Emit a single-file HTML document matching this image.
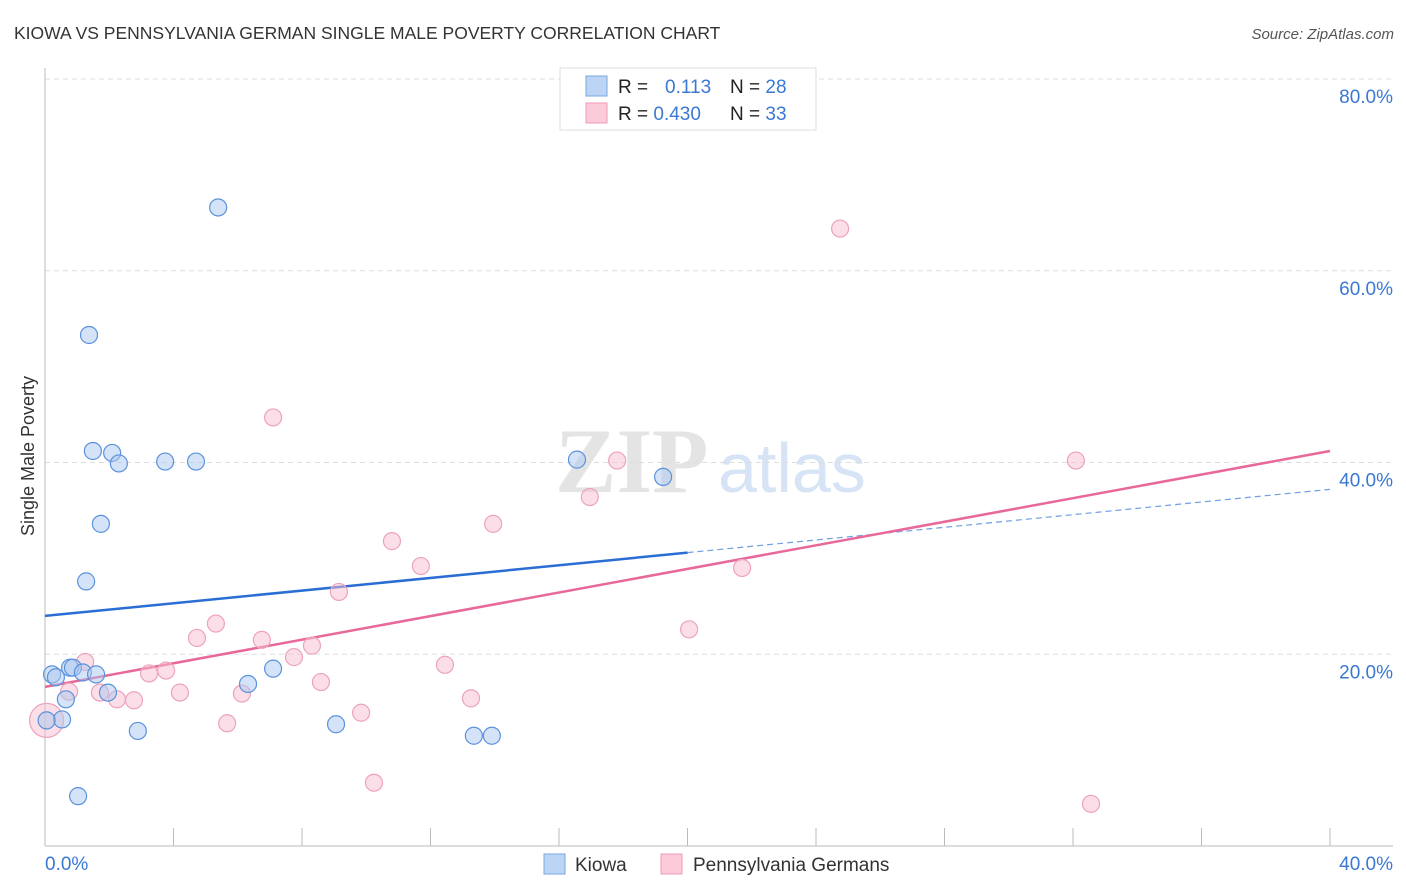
<!DOCTYPE html>
<html><head><meta charset="utf-8"><style>
body{margin:0;background:#fff;font-family:"Liberation Sans",sans-serif;}
#wrap{position:relative;width:1406px;height:892px;overflow:hidden;}
</style></head><body>
<div id="wrap">
<svg id="svg" width="1406" height="892" xmlns="http://www.w3.org/2000/svg">
<text x="14" y="39" font-size="17.5" fill="#333">KIOWA VS PENNSYLVANIA GERMAN SINGLE MALE POVERTY CORRELATION CHART</text>
<text x="1394" y="39" font-size="15" fill="#555" font-style="italic" text-anchor="end">Source: ZipAtlas.com</text>
<text x="34" y="456" font-size="18" fill="#333" text-anchor="middle" transform="rotate(-90 34 456)">Single Male Poverty</text>
<text x="555" y="492" font-size="92" fill="#e4e4e4" font-family="Liberation Serif,serif" font-weight="bold">ZIP</text>
<text x="718" y="492" font-size="70" fill="#d6e4f5">atlas</text>
<g id="grid"></g><g id="axes"></g><g id="lines"></g><g id="pts"></g>
<g>
<rect x="560" y="68" width="256" height="62" fill="#fff" stroke="#ddd"/>
<rect x="586" y="76" width="21" height="20" fill="#bcd5f5" stroke="#7aa7e0"/>
<rect x="586" y="103" width="21" height="20" fill="#fbcbd9" stroke="#f09ab5"/>
<text x="618" y="93" font-size="19" fill="#222">R = <tspan fill="#3a78d4" x="665">0.113</tspan></text>
<text x="730" y="93" font-size="19" fill="#222">N = <tspan fill="#3a78d4">28</tspan></text>
<text x="618" y="120" font-size="19" fill="#222">R = <tspan fill="#3a78d4">0.430</tspan></text>
<text x="730" y="120" font-size="19" fill="#222">N = <tspan fill="#3a78d4">33</tspan></text>
</g>
<g>
<rect x="544" y="854" width="21" height="20" fill="#bcd5f5" stroke="#7aa7e0"/>
<text x="575" y="871" font-size="19" fill="#333">Kiowa</text>
<rect x="661" y="854" width="21" height="20" fill="#fbcbd9" stroke="#f09ab5"/>
<text x="693" y="871" font-size="19" fill="#333">Pennsylvania Germans</text>
</g>
</svg>
</div>
<script>
const yTicks=[20,40,60,80];
const yTickLabels=["20.0%","40.0%","60.0%","80.0%"];
const xTickLabels=["0.0%","40.0%"];
const kiowaX=[0.22,0.34,0.53,0.78,0.87,0.65,1.18,1.59,1.96,1.03,1.28,1.37,1.49,1.74,2.09,2.30,2.89,3.74,4.70,5.39,6.32,7.10,9.06,13.35,13.91,16.56,19.24,0.05];
const kiowaY=[17.9,17.6,13.2,18.6,18.6,15.3,18.1,17.9,16.0,5.2,27.6,53.3,41.2,33.6,41.0,39.9,12.0,40.1,40.1,66.6,16.9,18.5,12.7,11.5,11.5,40.3,38.5,13.1];
const paX=[0.05,0.75,1.25,1.71,2.24,2.77,3.24,3.77,4.20,4.73,5.32,5.67,6.13,6.75,7.10,7.75,8.31,8.59,9.15,9.84,10.24,10.80,11.70,12.45,13.26,13.95,16.96,17.81,20.05,21.70,24.75,32.09,32.56];
const paY=[13.1,16.1,19.2,16.0,15.3,15.2,18.0,18.3,16.0,21.7,23.2,12.8,15.9,21.5,44.7,19.7,20.9,17.1,26.5,13.9,6.6,31.8,29.2,18.9,15.4,33.6,36.4,40.2,22.6,29.0,64.4,40.2,4.4];
const kiowaTrend=[24.0,0.33];   // intercept, slope
const paTrend=[16.6,0.615];
const NS="http://www.w3.org/2000/svg";
const X=v=>45+v*32.125, Y=v=>846-v*9.5875;
function mk(tag,attrs,parent){const e=document.createElementNS(NS,tag);for(const k in attrs)e.setAttribute(k,attrs[k]);document.getElementById(parent).appendChild(e);return e;}
yTicks.forEach((t,i)=>{
 const l=mk('line',{x1:45,x2:1393,y1:Y(t),y2:Y(t),stroke:'#ddd','stroke-dasharray':'5,4'},'grid');
 
 
 const tx=mk('text',{x:1393,y:Y(t)+24,'font-size':19,fill:'#3a78d4','text-anchor':'end'},'grid');
 tx.textContent=yTickLabels[i];
 
 
});
let a=mk('line',{x1:45,x2:45,y1:68,y2:846,stroke:'#bbb'},'axes');


a=mk('line',{x1:45,x2:1393,y1:846,y2:846,stroke:'#bbb'},'axes');


for(let i=0;i<=10;i++){
 const t=mk('line',{x1:X(i*4),x2:X(i*4),y1:828,y2:846,stroke:'#bbb'},'axes');
 
 
}
[[0,'start',45],[40,'end',1393]].forEach((d,i)=>{
 const t=mk('text',{x:d[2],y:870,'font-size':19,fill:'#3a78d4','text-anchor':d[1]},'axes');
 t.textContent=xTickLabels[i];
 
 
});
let ln=mk('line',{x1:X(0),y1:Y(kiowaTrend[0]),x2:X(20),y2:Y(kiowaTrend[0]+kiowaTrend[1]*20),stroke:'#2a6dd4','stroke-width':2.5},'lines');


ln=mk('line',{x1:X(20),y1:Y(kiowaTrend[0]+kiowaTrend[1]*20),x2:X(40),y2:Y(kiowaTrend[0]+kiowaTrend[1]*40),stroke:'#6f9fe0','stroke-width':1.2,'stroke-dasharray':'6,4'},'lines');


ln=mk('line',{x1:X(0),y1:Y(paTrend[0]),x2:X(40),y2:Y(paTrend[0]+paTrend[1]*40),stroke:'#e8689a','stroke-width':2.5},'lines');


paX.forEach((x,i)=>{
 const c=mk('circle',{cx:X(x),cy:Y(paY[i]),r:i==0?17:8.5,fill:'rgba(248,190,208,0.5)',stroke:'#eda3bb','stroke-width':1.2},'pts');
 
 
});
kiowaX.forEach((x,i)=>{
 const c=mk('circle',{cx:X(x),cy:Y(kiowaY[i]),r:8.5,fill:'rgba(170,200,240,0.5)',stroke:'#5b92dc','stroke-width':1.2},'pts');
 
 
});
</script>
</body></html>
